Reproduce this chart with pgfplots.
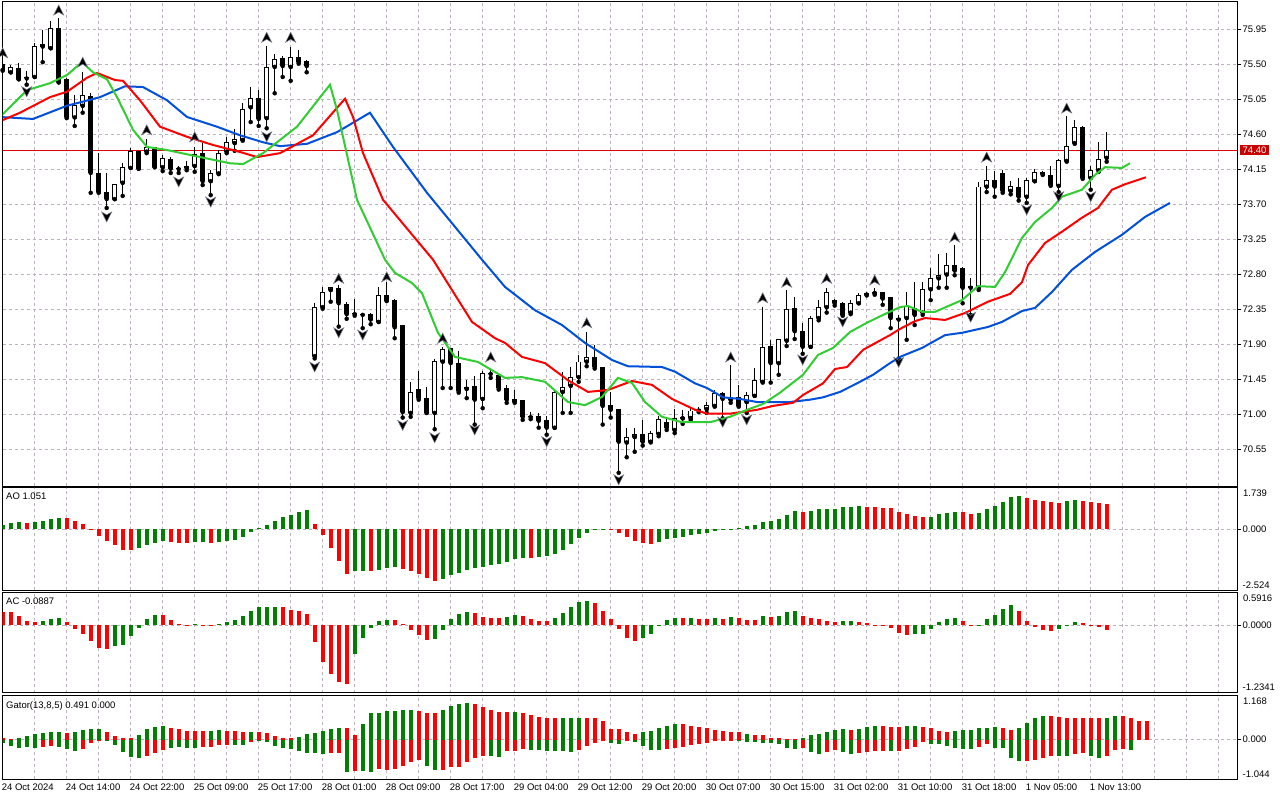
\documentclass[border=0pt]{standalone}
\usepackage{pgfplots}
\pgfplotsset{compat=1.18}
\usepackage{pgfplotstable}
\usepackage{fontspec}
\setmainfont{Liberation Sans}
\newcommand\lbl{\fontsize{9.5pt}{11pt}\selectfont}
\definecolor{gridc}{RGB}{190,178,192}
\definecolor{mtgreen}{RGB}{0,128,0}
\definecolor{mtred}{RGB}{255,0,0}
\definecolor{jaw}{RGB}{0,80,220}
\definecolor{teeth}{RGB}{255,0,0}
\definecolor{lips}{RGB}{50,205,50}
\definecolor{pline}{RGB}{220,0,0}
\definecolor{pbox}{RGB}{200,0,0}
\pgfdeclareplotmark{fup}{%
 \pgfpathmoveto{\pgfqpoint{0pt}{5pt}}%
 \pgfpathlineto{\pgfqpoint{5pt}{-5pt}}%
 \pgfpathlineto{\pgfqpoint{0pt}{-2pt}}%
 \pgfpathlineto{\pgfqpoint{-5pt}{-5pt}}%
 \pgfpathclose\pgfusepathqfillstroke}
\pgfdeclareplotmark{fdown}{%
 \pgfpathmoveto{\pgfqpoint{0pt}{-5pt}}%
 \pgfpathlineto{\pgfqpoint{5pt}{5pt}}%
 \pgfpathlineto{\pgfqpoint{0pt}{2pt}}%
 \pgfpathlineto{\pgfqpoint{-5pt}{5pt}}%
 \pgfpathclose\pgfusepathqfillstroke}

\pgfplotstableread{
k o h l c
1 75.40 75.49 75.40 75.47
4 75.34 75.78 75.34 75.74
6 75.71 76.06 75.71 75.97
9 74.82 75.11 74.71 74.98
10 74.97 75.40 74.88 75.11
14 73.77 73.96 73.77 73.96
15 73.98 74.23 73.81 74.18
16 74.17 74.43 74.17 74.39
18 74.38 74.54 74.36 74.44
20 74.18 74.34 74.13 74.30
23 74.17 74.26 74.14 74.195
24 74.195 74.44 74.12 74.35
26 74.00 74.14 73.82 74.10
27 74.10 74.40 74.09 74.36
28 74.38 74.57 74.36 74.50
29 74.49 74.67 74.39 74.54
30 74.53 75.00 74.52 74.93
31 74.95 75.21 74.76 75.07
33 74.81 75.74 74.68 75.47
34 75.47 75.63 75.13 75.57
36 75.47 75.72 75.29 75.60
39 71.75 72.43 71.72 72.38
40 72.38 72.64 72.36 72.575
41 72.60 72.64 72.45 72.64
47 72.19 72.64 72.19 72.54
51 71.02 71.42 70.97 71.29
54 71.02 71.71 70.81 71.69
55 71.68 71.87 71.34 71.84
58 71.33 71.44 71.21 71.35
60 71.20 71.56 71.08 71.53
69 70.83 71.32 70.83 71.29
70 71.29 71.55 71.02 71.35
71 71.37 71.61 71.02 71.48
72 71.48 71.77 71.42 71.68
73 71.68 72.06 71.62 71.74
78 70.64 70.83 70.45 70.71
79 70.71 70.83 70.52 70.75
81 70.65 70.79 70.64 70.76
82 70.75 70.98 70.72 70.94
84 70.80 71.07 70.76 70.95
85 70.95 71.06 70.88 70.97
86 70.955 71.10 70.93 71.05
88 71.07 71.16 71.02 71.12
89 71.11 71.32 71.10 71.28
91 71.19 71.64 71.15 71.23
93 71.16 71.29 71.02 71.25
94 71.24 71.60 71.24 71.44
95 71.42 72.38 71.41 71.87
97 71.66 71.97 71.51 71.97
98 71.95 72.60 71.88 72.36
101 71.87 72.27 71.87 72.24
102 72.24 72.47 72.21 72.38
103 72.38 72.63 72.31 72.57
106 72.31 72.47 72.29 72.43
107 72.43 72.56 72.43 72.54
108 72.54 72.575 72.53 72.56
109 72.56 72.63 72.54 72.575
113 72.24 72.575 71.96 72.39
115 72.31 72.70 72.28 72.61
116 72.61 72.88 72.47 72.75
117 72.75 73.06 72.63 72.79
118 72.80 73.08 72.63 72.92
122 72.63 73.99 72.60 73.93
123 73.93 74.19 73.86 74.01
126 73.875 74.00 73.83 73.94
128 73.80 74.04 73.72 74.01
129 74.00 74.16 74.00 74.12
132 73.94 74.285 73.86 74.27
133 74.26 74.84 74.25 74.45
134 74.49 74.79 74.48 74.70
136 74.04 74.19 73.89 74.14
137 74.14 74.50 74.12 74.28
138 74.30 74.63 74.25 74.40
}\bull

\pgfplotstableread{
k o h l c
0 75.51 75.53 75.42 75.43
2 75.455 75.52 75.31 75.31
3 75.34 75.42 75.24 75.32
5 75.76 75.94 75.53 75.73
7 75.97 76.10 75.27 75.27
8 75.31 75.32 74.81 74.82
11 75.10 75.13 73.85 74.105
12 74.105 74.36 73.85 73.86
13 73.86 74.11 73.655 73.77
17 74.39 74.39 74.16 74.16
19 74.44 74.44 74.18 74.18
21 74.28 74.31 74.105 74.16
22 74.165 74.195 74.105 74.155
25 74.36 74.49 73.95 74.00
32 75.07 75.17 74.71 74.80
35 75.58 75.61 75.34 75.48
37 75.60 75.69 75.51 75.53
38 75.54 75.56 75.40 75.48
42 72.63 72.67 72.13 72.43
43 72.42 72.45 72.23 72.29
44 72.30 72.48 72.27 72.29
45 72.29 72.30 72.11 72.28
46 72.29 72.30 72.16 72.22
48 72.53 72.70 72.46 72.46
49 72.47 72.48 71.98 72.12
50 72.15 72.15 70.96 71.03
52 71.33 71.56 71.19 71.21
53 71.21 71.35 71.02 71.02
56 71.85 71.86 71.34 71.66
57 71.66 71.82 71.28 71.30
59 71.36 71.49 70.87 71.19
61 71.53 71.60 71.47 71.52
62 71.51 71.53 71.32 71.34
63 71.34 71.38 71.15 71.19
64 71.20 71.32 71.15 71.16
65 71.18 71.18 70.93 70.97
66 70.975 71.03 70.94 70.965
67 70.98 71.02 70.83 70.92
68 70.93 70.98 70.74 70.83
74 71.74 71.89 71.59 71.61
75 71.61 71.61 70.87 71.11
76 71.12 71.29 70.96 71.06
77 71.07 71.07 70.25 70.65
80 70.75 70.93 70.60 70.65
83 70.90 70.96 70.80 70.83
87 71.07 71.10 71.03 71.05
90 71.28 71.29 70.95 71.20
92 71.23 71.38 71.10 71.11
96 71.88 71.96 71.41 71.66
99 72.37 72.51 71.97 72.07
100 72.07 72.17 71.78 71.87
104 72.47 72.49 72.40 72.43
105 72.43 72.45 72.27 72.28
110 72.575 72.58 72.41 72.49
111 72.51 72.51 72.11 72.24
112 72.24 72.28 71.72 72.22
114 72.37 72.70 72.15 72.28
119 72.92 73.18 72.79 72.85
120 72.88 72.89 72.43 72.63
121 72.65 72.75 72.28 72.63
124 74.01 74.13 73.80 73.93
125 74.10 74.14 73.85 73.875
127 73.93 74.04 73.75 73.80
130 74.12 74.13 74.08 74.09
131 74.08 74.19 73.94 73.95
135 74.70 74.71 74.03 74.04
}\bear

\pgfplotsset{
 mtbase/.style={
  scale only axis, width=1234.5pt, xmin=-0.025, xmax=154.29,
  axis line style={black, line width=0.8pt},
  clip mode=individual,
  xtick={0,4,...,152},
  xticklabels={},
  xmajorgrids=true,
  major grid style={gridc, dash pattern=on 3pt off 3pt, line width=0.8pt},
  minor grid style={gridc, dash pattern=on 3pt off 3pt, line width=0.8pt},
  minor tick length=0pt,
  major tick length=4pt,
  tick style={black, line width=0.8pt},
  xtick style={draw=none},
  tick align=outside,
  ytick pos=right, yticklabel pos=right,
  ymajorgrids=true,
  yticklabel style={anchor=west, inner sep=0pt, xshift=1.5pt, font=\lbl},
  /pgf/number format/assume math mode=true,
 },
 hist/.style={ycomb, mark=none, line width=4pt, forget plot},
}
\tikzset{
 lbltop/.style={anchor=north west, inner sep=0pt, font=\lbl, text height=6.8pt, text depth=0pt},
 lblbot/.style={anchor=south west, inner sep=0pt, font=\lbl, text height=6.8pt, text depth=0pt},
}

\begin{document}
\begin{tikzpicture}
\useasboundingbox (0,0) rectangle (1280pt,-800pt);
\fill[white] (0,0) rectangle (1280pt,-800pt);

% ================= MAIN =================
\begin{axis}[mtbase, at={(2.5pt,-1.5pt)}, anchor=north west, height=484.5pt,
  ymin=70.08, ymax=76.31,
  ytick={70.55,71.00,71.45,71.90,72.35,72.80,73.25,73.70,74.15,74.60,75.05,75.50,75.95},
  yticklabel style={/pgf/number format/fixed, /pgf/number format/fixed zerofill, /pgf/number format/precision=2},
]
\addplot[pline, line width=0.9pt, forget plot] coordinates {(-1,74.40) (156,74.40)};
% wicks
\addplot[only marks, mark=none, forget plot, error bars/.cd, y dir=plus, y explicit, error mark=none, error bar style={black, line width=1pt}]
  table[x=k, y=l, y error plus expr=\thisrow{h}-\thisrow{l}] {\bull};
\addplot[only marks, mark=none, forget plot, error bars/.cd, y dir=plus, y explicit, error mark=none, error bar style={black, line width=1pt}]
  table[x=k, y=l, y error plus expr=\thisrow{h}-\thisrow{l}] {\bear};
% bear bodies
\addplot[only marks, mark=none, forget plot, error bars/.cd, y dir=plus, y explicit, error mark=none, error bar style={black, line width=5pt}]
  table[x=k, y=c, y error plus expr=\thisrow{o}-\thisrow{c}] {\bear};
% bull bodies
\addplot[only marks, mark=none, forget plot, error bars/.cd, y dir=plus, y explicit, error mark=none, error bar style={black, line width=5pt}]
  table[x=k, y=o, y error plus expr=\thisrow{c}-\thisrow{o}] {\bull};
\addplot[only marks, mark=none, forget plot, error bars/.cd, y dir=plus, y explicit, error mark=none, error bar style={white, line width=3pt, shorten <=0.9pt, shorten >=0.9pt}]
  table[x=k, y=o, y error plus expr=\thisrow{c}-\thisrow{o}] {\bull};
% alligator jaw
\addplot[jaw, line width=2pt, mark=none] coordinates {
(-0.34,74.825)(3.79,74.80)(8.04,74.97)(12.16,75.08)(15.29,75.22)(17.54,75.21)(20.54,75.04)(23.04,74.825)
(26.79,74.70)(29.66,74.59)(32.54,74.50)(34.66,74.45)(38.04,74.48)(41.79,74.63)(45.91,74.88)(48.79,74.44)
(53.04,73.85)(59.91,72.99)(62.79,72.64)(66.54,72.34)(69.91,72.15)(72.79,71.92)(76.16,71.70)(78.16,71.62)
(82.41,71.61)(84.04,71.55)(86.54,71.40)(88.04,71.34)(90.04,71.22)(92.16,71.20)(94.29,71.16)(98.41,71.16)
(100.91,71.19)(102.54,71.22)(104.66,71.29)(106.79,71.40)(108.79,71.51)(110.91,71.66)(112.16,71.74)
(114.91,71.855)(117.79,72.02)(119.91,72.05)(123.16,72.125)(124.91,72.19)(127.41,72.33)(129.04,72.37)
(131.16,72.575)(133.66,72.86)(136.54,73.09)(139.91,73.31)(142.79,73.54)(145.91,73.72)};
% teeth
\addplot[teeth, line width=2pt, mark=none] coordinates {
(-0.34,74.77)(2.16,74.88)(5.91,75.08)(8.04,75.15)(10.54,75.33)(11.79,75.39)(14.04,75.30)(15.04,75.29)
(17.16,75.04)(19.66,74.70)(23.04,74.57)(26.29,74.465)(29.66,74.375)(31.79,74.31)(34.66,74.36)(38.79,74.59)
(42.79,75.06)(43.79,74.825)(45.04,74.36)(47.54,73.76)(53.79,72.99)(56.16,72.60)(58.66,72.19)(61.54,71.98)
(62.79,71.92)(64.91,71.74)(67.79,71.66)(70.66,71.44)(73.16,71.29)(75.66,71.315)(78.66,71.43)(81.16,71.38)
(83.66,71.20)(86.54,71.06)(88.04,71.01)(90.91,71.01)(94.29,71.06)(96.29,71.11)(98.79,71.15)(100.04,71.25)
(102.54,71.40)(104.04,71.585)(105.54,71.61)(107.54,71.83)(109.29,71.93)(110.91,72.02)(112.16,72.10)
(114.04,72.20)(115.29,72.24)(117.79,72.215)(120.29,72.305)(123.16,72.45)(125.91,72.55)(127.41,72.70)
(128.16,72.92)(130.29,73.205)(132.41,73.35)(134.91,73.53)(136.91,73.655)(138.66,73.89)(140.29,73.96)(142.91,74.05)};
% lips
\addplot[lips, line width=2pt, mark=none] coordinates {
(-0.34,74.825)(3.04,75.17)(5.91,75.26)(8.04,75.365)(9.91,75.53)(11.29,75.40)(13.04,75.31)(14.29,75.08)
(16.29,74.66)(18.04,74.44)(20.54,74.40)(24.66,74.31)(28.41,74.23)(30.04,74.22)(32.54,74.36)(36.79,74.70)
(40.91,75.24)(41.79,74.915)(44.29,73.76)(47.79,72.99)(49.04,72.82)(51.16,72.69)(52.41,72.56)(54.41,72.05)
(56.54,71.74)(59.41,71.675)(62.79,71.47)(64.91,71.48)(67.79,71.42)(70.66,71.16)(72.79,71.12)(74.91,71.225)
(76.91,71.47)(78.66,71.405)(80.29,71.16)(82.41,70.97)(84.91,70.90)(88.41,70.90)(90.91,70.97)(93.04,71.06)
(95.04,71.135)(97.16,71.28)(98.41,71.38)(100.04,71.51)(101.91,71.765)(103.79,71.855)(105.91,72.06)
(108.04,72.18)(110.04,72.28)(112.16,72.38)(113.16,72.395)(114.91,72.32)(116.54,72.32)(119.91,72.47)
(121.91,72.65)(124.04,72.64)(125.29,72.83)(127.41,73.27)(129.04,73.475)(131.16,73.655)(132.41,73.80)
(134.91,73.89)(136.54,74.08)(137.79,74.18)(139.91,74.17)(140.91,74.23)};
% fractals
\addplot[only marks, mark=fup, mark options={fill=black, draw={rgb,255:red,120;green,120;blue,140}, line width=0.5pt}] coordinates {
(0,75.65)(7,76.20)(10,75.53)(18,74.66)(24,74.57)(33,75.85)(36,75.85)(42,72.75)(48,72.77)(55,71.98)
(61,71.74)(73,72.18)(91,71.74)(95,72.50)(98,72.70)(103,72.75)(109,72.73)(119,73.28)(123,74.31)(133,74.94)};
\addplot[only marks, mark=fdown, mark options={fill=black, draw={rgb,255:red,120;green,120;blue,140}, line width=0.5pt}] coordinates {
(3,75.15)(13,73.54)(22,73.99)(26,73.73)(33,74.57)(39,71.61)(42,72.05)(45,72.02)(50,70.86)(54,70.70)
(59,70.80)(68,70.65)(77,70.16)(90,70.90)(93,70.93)(100,71.70)(105,72.19)(112,71.67)(121,72.25)
(128,73.63)(132,73.80)(136,73.80)};
\node[fill=pbox, text=white, font=\lbl, anchor=west, inner xsep=2.5pt, inner ysep=1.6pt, text height=6.8pt, text depth=0pt, xshift=3pt] at (axis cs:154.29,74.40) {74.40};
\end{axis}

% ================= AO =================
\begin{axis}[mtbase, at={(2.5pt,-487.5pt)}, anchor=north west, height=102.5pt,
  ymin=-2.524, ymax=1.739, ytick={0}, yticklabels={0.000}]
\addplot[hist, mtgreen] coordinates {
(0,.166)(1,.26)(2,.30)(4,.30)(5,.35)(6,.41)(7,.48)(17,-.77)(18,-.66)(19,-.57)(20,-.48)(24,-.54)(25,-.53)
(27,-.54)(28,-.50)(29,-.46)(30,-.33)(31,-.11)(32,.06)(33,.17)(34,.33)(35,.50)(36,.59)(37,.71)(38,.79)
(44,-1.73)(45,-1.72)(47,-1.69)(48,-1.60)(49,-1.56)(55,-2.07)(56,-1.91)(57,-1.83)(58,-1.70)(59,-1.62)
(60,-1.58)(61,-1.49)(62,-1.45)(63,-1.37)(64,-1.24)(65,-1.20)(67,-1.16)(68,-1.12)(69,-1.04)(70,-.87)
(71,-.62)(72,-.37)(73,-.17)(74,-.03)(75,-.01)(82,-.54)(83,-.41)(84,-.37)(85,-.33)(86,-.25)(87,-.21)
(88,-.17)(89,-.08)(90,-.04)(91,.01)(92,.07)(93,.12)(94,.17)(95,.29)(96,.33)(97,.41)(98,.59)(99,.75)
(101,.76)(102,.83)(103,.84)(104,.85)(105,.91)(106,.92)(107,.95)(116,.51)(117,.62)(118,.66)(119,.71)
(122,.66)(123,.83)(124,.95)(125,1.12)(126,1.33)(127,1.37)(133,1.16)(134,1.20)};
\addplot[hist, mtred] coordinates {
(3,.26)(8,.47)(9,.33)(10,.22)(11,.02)(12,-.28)(13,-.48)(14,-.66)(15,-.87)(16,-.88)(21,-.54)(22,-.55)
(23,-.58)(26,-.58)(39,.22)(40,-.25)(41,-.77)(42,-1.33)(43,-1.85)(46,-1.73)(50,-1.67)(51,-1.73)(52,-1.86)
(53,-2.03)(54,-2.14)(66,-1.21)(76,-.04)(77,-.17)(78,-.33)(79,-.50)(80,-.58)(81,-.62)(100,.71)(108,.94)
(109,.91)(110,.90)(111,.87)(112,.71)(113,.62)(114,.54)(115,.50)(120,.70)(121,.64)(128,1.29)(129,1.24)
(130,1.16)(131,1.12)(132,1.08)(135,1.19)(136,1.12)(137,1.11)(138,1.051)};
\node[lbltop, xshift=3.5pt, yshift=-5pt] at (rel axis cs:0,1) {AO 1.051};
\node[lbltop, xshift=6pt, yshift=-1.8pt] at (rel axis cs:1,1) {1.739};
\node[lblbot, xshift=5.5pt, yshift=1.7pt] at (rel axis cs:1,0) {-2.524};
\end{axis}

% ================= AC =================
\begin{axis}[mtbase, at={(2.5pt,-592.5pt)}, anchor=north west, height=100pt,
  ymin=-1.2341, ymax=0.5916, ytick={0}, yticklabels={0.0000}]
\addplot[hist, mtgreen] coordinates {
(5,.07)(6,.11)(7,.13)(14,-.39)(15,-.36)(16,-.21)(17,-.05)(18,.11)(19,.18)(24,.01)(27,.02)(28,.055)
(29,.09)(30,.17)(31,.25)(32,.32)(33,.33)(34,.335)(44,-.54)(45,-.23)(46,-.05)(47,.07)(48,.09)(54,-.25)
(55,-.085)(56,.11)(57,.20)(58,.24)(63,.145)(64,.18)(69,.13)(70,.22)(71,.33)(72,.42)(73,.44)(80,-.23)
(81,-.16)(82,-.005)(83,.09)(84,.13)(86,.13)(89,.13)(91,.145)(95,.165)(97,.165)(98,.24)(99,.255)
(105,.07)(106,.072)(114,-.175)(115,-.16)(116,-.07)(117,.05)(118,.105)(119,.12)(122,.005)(123,.105)
(124,.18)(125,.285)(126,.36)(132,-.07)(133,.005)(134,.05)};
\addplot[hist, mtred] coordinates {
(0,.24)(1,.23)(2,.16)(3,.07)(4,.05)(8,.05)(9,-.07)(10,-.16)(11,-.30)(12,-.43)(13,-.44)(20,.175)(21,.09)
(22,.02)(23,.005)(25,.003)(26,-.005)(35,.32)(36,.28)(37,.26)(38,.20)(39,-.32)(40,-.67)(41,-.90)(42,-1.04)
(43,-1.07)(49,.088)(50,.02)(51,-.085)(52,-.18)(53,-.27)(59,.22)(60,.145)(61,.13)(62,.125)(65,.165)
(66,.11)(67,.07)(68,.065)(74,.40)(75,.25)(76,.11)(77,-.07)(78,-.23)(79,-.30)(85,.125)(87,.11)(88,.105)
(90,.11)(92,.13)(93,.09)(94,.085)(96,.15)(100,.165)(101,.125)(102,.11)(103,.07)(104,.055)(107,.05)
(108,.03)(109,.003)(110,-.01)(111,-.05)(112,-.15)(113,-.18)(120,.07)(121,.002)(127,.25)(128,.07)
(129,-.035)(130,-.09)(131,-.11)(135,.03)(136,-.005)(137,-.035)(138,-.0887)};
\node[lbltop, xshift=3.5pt, yshift=-4.8pt] at (rel axis cs:0,1) {AC -0.0887};
\node[lbltop, xshift=6pt, yshift=-1.8pt] at (rel axis cs:1,1) {0.5916};
\node[lblbot, xshift=5.5pt, yshift=1.7pt] at (rel axis cs:1,0) {-1.2341};
\end{axis}

% ================= GATOR =================
\begin{axis}[mtbase, at={(2.5pt,-695.5pt)}, anchor=north west, height=83.5pt,
  ymin=-1.044, ymax=1.168, ytick={0}, yticklabels={0.000},
  xtick={0,8,...,136},
  minor xtick={4,12,...,132,140,144,148,152},
  xmajorgrids=true, xminorgrids=true,
  xtick style={black, line width=0.8pt},
  xtick pos=bottom, xticklabel pos=bottom,
  xticklabels={24 Oct 2024, 24 Oct 14:00, 24 Oct 22:00, 25 Oct 09:00, 25 Oct 17:00, 28 Oct 01:00, 28 Oct 09:00, 28 Oct 17:00, 29 Oct 04:00, 29 Oct 12:00, 29 Oct 20:00, 30 Oct 07:00, 30 Oct 15:00, 31 Oct 02:00, 31 Oct 10:00, 31 Oct 18:00, 1 Nov 05:00, 1 Nov 13:00},
  xticklabel style={anchor=north west, inner sep=0pt, xshift=-1pt, yshift=-1pt, font=\lbl},
]
\addplot[hist, mtgreen] coordinates {
(2,.04)(3,.10)(4,.15)(5,.18)(6,.20)(7,.20)(9,.20)(10,.25)(11,.29)(12,.29)(17,.12)(18,.29)(19,.34)(20,.37)
(26,.24)(27,.26)(31,.20)(37,.07)(38,.15)(39,.18)(40,.24)(41,.29)(42,.32)(45,.41)(46,.71)(47,.70)(48,.77)
(49,.77)(50,.78)(51,.78)(55,.79)(56,.90)(57,.95)(58,.98)(64,.74)(70,.58)(71,.58)(72,.58)(80,.19)(81,.24)
(82,.32)(83,.37)(84,.42)(93,.16)(100,.05)(101,.11)(102,.16)(103,.21)(104,.26)(105,.29)(107,.29)(108,.34)
(109,.37)(113,.37)(114,.37)(119,.24)(120,.26)(121,.26)(122,.32)(123,.32)(124,.34)(127,.32)(128,.45)
(129,.58)(130,.63)(138,.58)(139,.63)};
\addplot[hist, mtred] coordinates {
(0,.05)(1,.02)(8,.18)(13,.20)(14,.10)(15,.04)(16,.03)(21,.32)(22,.29)(23,.24)(24,.24)(25,.24)(28,.24)
(29,.22)(30,.20)(32,.20)(33,.18)(34,.10)(35,.04)(36,.03)(43,.32)(44,.11)(52,.77)(53,.71)(54,.71)(59,.95)
(60,.87)(61,.79)(62,.74)(63,.74)(65,.71)(66,.66)(67,.61)(68,.58)(69,.58)(73,.58)(74,.56)(75,.48)(76,.29)
(77,.29)(78,.21)(79,.16)(85,.40)(86,.37)(87,.34)(88,.32)(89,.26)(90,.24)(91,.21)(92,.19)(94,.13)(95,.11)
(96,.05)(97,.03)(98,.02)(99,.01)(106,.26)(110,.37)(111,.34)(112,.34)(115,.34)(116,.32)(117,.24)(118,.21)
(125,.32)(126,.26)(131,.63)(132,.61)(133,.58)(134,.58)(135,.58)(136,.58)(137,.58)(140,.63)(141,.56)
(142,.50)(143,.491)};
\addplot[hist, mtgreen] coordinates {
(0,-.10)(1,-.16)(2,-.22)(3,-.20)(4,-.23)(7,-.20)(8,-.26)(9,-.31)(13,-.04)(14,-.15)(15,-.34)(16,-.47)
(17,-.50)(21,-.23)(22,-.20)(23,-.23)(24,-.23)(29,-.15)(30,-.13)(32,-.04)(33,-.07)(34,-.18)(35,-.23)
(36,-.26)(37,-.31)(38,-.36)(39,-.36)(40,-.39)(43,-.86)(45,-.84)(46,-.86)(53,-.69)(54,-.81)(61,-.44)
(62,-.47)(66,-.28)(67,-.28)(68,-.31)(69,-.31)(70,-.31)(71,-.33)(76,-.10)(77,-.12)(79,-.07)(80,-.18)
(81,-.28)(82,-.28)(92,-.04)(93,-.07)(94,-.07)(95,-.10)(96,-.10)(97,-.12)(98,-.23)(99,-.26)(101,-.33)
(102,-.39)(105,-.33)(106,-.39)(111,-.31)(116,-.12)(117,-.12)(118,-.18)(119,-.23)(120,-.26)(121,-.26)
(124,-.23)(125,-.23)(126,-.49)(127,-.57)(132,-.44)(133,-.44)(136,-.44)(137,-.49)(141,-.28)};
\addplot[hist, mtred] coordinates {
(5,-.20)(6,-.18)(10,-.26)(11,-.10)(12,-.04)(18,-.44)(19,-.36)(20,-.28)(25,-.20)(26,-.20)(27,-.15)
(28,-.15)(31,-.07)(41,-.36)(42,-.36)(44,-.82)(47,-.79)(48,-.80)(49,-.78)(50,-.70)(51,-.60)(52,-.54)
(55,-.81)(56,-.73)(57,-.73)(58,-.60)(59,-.49)(60,-.44)(63,-.31)(64,-.31)(65,-.26)(72,-.28)(73,-.18)
(74,-.10)(75,-.01)(78,-.01)(83,-.26)(84,-.23)(85,-.20)(86,-.15)(87,-.12)(88,-.10)(89,-.04)(90,-.04)
(91,-.01)(100,-.23)(103,-.33)(104,-.28)(107,-.36)(108,-.33)(109,-.31)(110,-.31)(112,-.31)(113,-.26)
(114,-.20)(115,-.07)(122,-.20)(123,-.12)(128,-.57)(129,-.55)(130,-.49)(131,-.44)(134,-.39)(135,-.36)
(138,-.44)(139,-.28)(140,-.26)};
\node[lbltop, xshift=3.5pt, yshift=-5.5pt] at (rel axis cs:0,1) {Gator(13,8,5) 0.491 0.000};
\node[lbltop, xshift=6pt, yshift=-1.8pt] at (rel axis cs:1,1) {1.168};
\node[lblbot, xshift=5.5pt, yshift=1.7pt] at (rel axis cs:1,0) {-1.044};
\end{axis}
\end{tikzpicture}
\end{document}
